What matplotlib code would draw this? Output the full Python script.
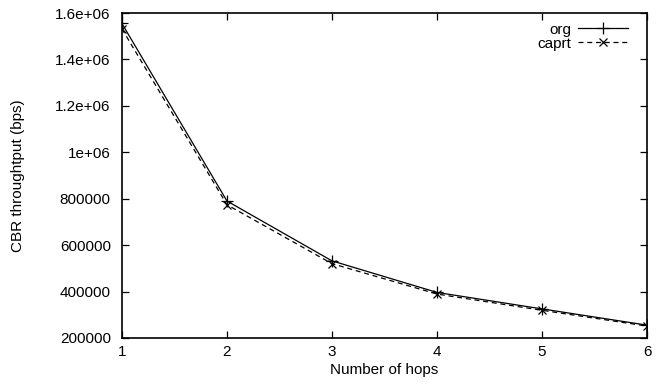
import matplotlib
matplotlib.use("Agg")
import matplotlib.pyplot as plt

plt.rcParams["font.family"] = ["Liberation Sans", "DejaVu Sans"]
plt.rcParams["font.size"] = 11

# data
hops = [1, 2, 3, 4, 5, 6]
org = [1555000, 790000, 532000, 396000, 325000, 255000]
caprt = [1532000, 774000, 520000, 389000, 319000, 251000]

fig = plt.figure(figsize=(6.59, 3.84), dpi=100)
ax = fig.add_axes([0.185, 0.12, 0.797, 0.846])

ax.plot(hops, org, color="black", lw=0.9, marker="+", ms=8, mew=0.9, label="org")
ax.plot(hops, caprt, color="black", lw=0.9, ls=(0, (4, 3)), marker="x", ms=6, mew=0.9, label="caprt")

ax.set_xlim(1, 6)
ax.set_ylim(200000, 1600000)
ax.set_xticks(hops)
ax.set_yticks([200000, 400000, 600000, 800000, 1000000, 1200000, 1400000, 1600000])
ax.set_yticklabels(["200000", "400000", "600000", "800000", "1e+06", "1.2e+06", "1.4e+06", "1.6e+06"])
ax.tick_params(direction="in", top=True, right=True, length=5, width=0.9, labelsize=11)
ax.tick_params(axis="y", pad=8)
ax.tick_params(axis="x", pad=5)
for s in ax.spines.values():
    s.set_linewidth(1.2)

ax.set_xlabel("Number of hops", fontsize=11, labelpad=3)
ax.set_ylabel("CBR throughtput (bps)", fontsize=11, labelpad=22)

ax.legend(loc="upper right", bbox_to_anchor=(0.964, 0.97), frameon=False, markerfirst=False,
          fontsize=11, handlelength=3.3, handletextpad=0.4, labelspacing=0.0,
          borderaxespad=0, borderpad=0)

fig.savefig("out.png", dpi=100)
